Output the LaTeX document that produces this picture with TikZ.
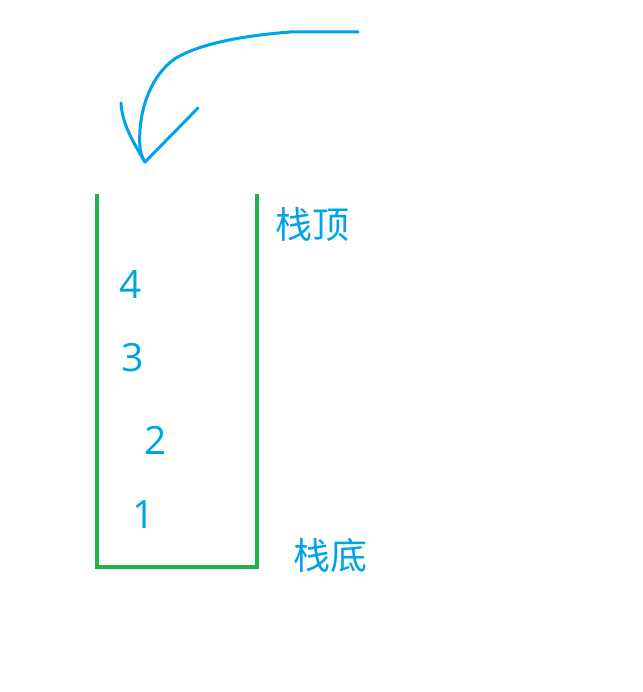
\documentclass[tikz,border=0pt]{standalone}
\usepackage{fontspec}
\newfontfamily\cjk{Noto Sans CJK SC}
\setmainfont{Open Sans}
\definecolor{stackgreen}{HTML}{22B14C}
\definecolor{inkblue}{HTML}{00A2E8}
\begin{document}
\begin{tikzpicture}[x=1pt,y=-1pt,
  lbl/.style={text=inkblue,font=\cjk\fontsize{37}{42}\selectfont,inner sep=0pt},
  num/.style={text=inkblue,font=\fontsize{39}{43}\selectfont,inner sep=0pt},
  ink/.style={draw=inkblue,line width=3pt,line cap=round,line join=round}]
\useasboundingbox (0,0) rectangle (642,692);
\fill[white] (0,0) rectangle (642,692);
% stack container
\coordinate (tl) at (97,194);
\coordinate (bl) at (97,567);
\coordinate (br) at (257,567);
\coordinate (tr) at (257,194);
\draw[stackgreen,line width=4pt] (tl) -- (bl) -- (br) -- (tr);
% labels
\node[lbl] (top) at (312,224) {栈顶};
\node[lbl] (bottom) at (330,555) {栈底};
\node[num] (n4) at (131,285) {4};
\node[num] (n3) at (133,358) {3};
\node[num] (n2) at (156,440) {2};
\node[num] (n1) at (144,515) {1};
% hand-drawn arrow
\coordinate (start) at (358,32);
\coordinate (tip) at (145,162);
\coordinate (wl) at (121,103);
\coordinate (wr) at (198,108);
\draw[ink] (start) -- (290,32) .. controls (240,36) and (200,44) .. (176,58)
  .. controls (155,72) and (142,100) .. (140,130) .. controls (139,145) and (140,155) .. (tip);
\draw[ink] (wl) .. controls (122,125) and (135,145) .. (tip) -- (wr);
\end{tikzpicture}
\end{document}
